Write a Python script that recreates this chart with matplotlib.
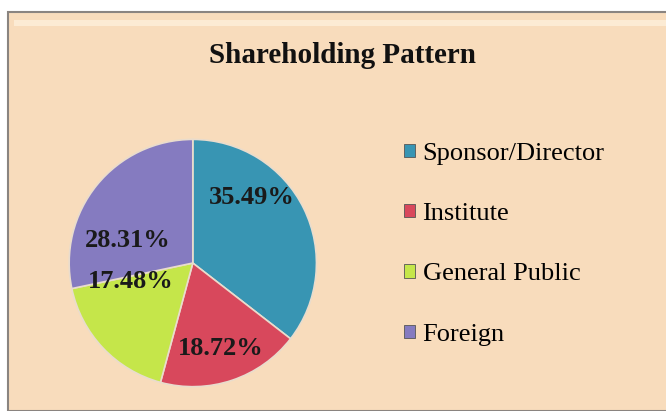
import matplotlib.pyplot as plt
from matplotlib.patches import Rectangle

# data
categories = ["Sponsor/Director", "Institute", "General Public", "Foreign"]
shares = [35.49, 18.72, 17.48, 28.31]
colors = ["#3895b3", "#d8485c", "#c5e64a", "#857bc0"]
# label spots inside each wedge (radius units)
label_pos = [(0.48, 0.53), (0.23, -0.69), (-0.50, -0.15), (-0.53, 0.18)]

plt.rcParams['font.family'] = ['Liberation Serif', 'DejaVu Serif']

fig = plt.figure(figsize=(6.66, 4.11), dpi=100, facecolor="white")

# background panel
bg = Rectangle((8 / 666, 0), 1, 1 - 12 / 411, transform=fig.transFigure,
               facecolor="#f8dcbc", edgecolor="#8a8480", linewidth=1.5, zorder=-2)
fig.patches.append(bg)
fig.patches.append(Rectangle((14 / 666, 1 - 26 / 411), 1, 6 / 411, transform=fig.transFigure,
                             facecolor="#fcebd4", edgecolor="none", zorder=-1))

fig.text(0.515, 0.865, "Shareholding Pattern", ha="center", va="center",
         fontsize=21, fontweight="bold", color="#111111")

# pie
ax = fig.add_axes([0.102, 0.056, 0.375, 0.608])
ax.set_zorder(2)
wedges, texts, autotexts = ax.pie(
    shares, colors=colors, startangle=90, counterclock=False,
    autopct="%.2f%%", radius=1,
    wedgeprops=dict(edgecolor="#e9dccd", linewidth=1.2),
    textprops=dict(fontsize=19, fontweight="bold", color="#1a1a1a"))
for t, (px, py) in zip(autotexts, label_pos):
    t.set_position((px, py))
ax.set_xlim(-1.01, 1.01)
ax.set_ylim(-1.01, 1.01)
ax.set_aspect("equal")
ax.axis("off")

leg = fig.legend(wedges, categories, loc="upper left", bbox_to_anchor=(0.571, 0.71),
                 frameon=False, fontsize=19, handlelength=0.4, handleheight=0.4,
                 handletextpad=0.3, labelspacing=1.45)
for h in leg.legend_handles:
    h.set_edgecolor("#555555")
    h.set_linewidth(0.6)

fig.savefig("out.png", dpi=100, facecolor=fig.get_facecolor())
